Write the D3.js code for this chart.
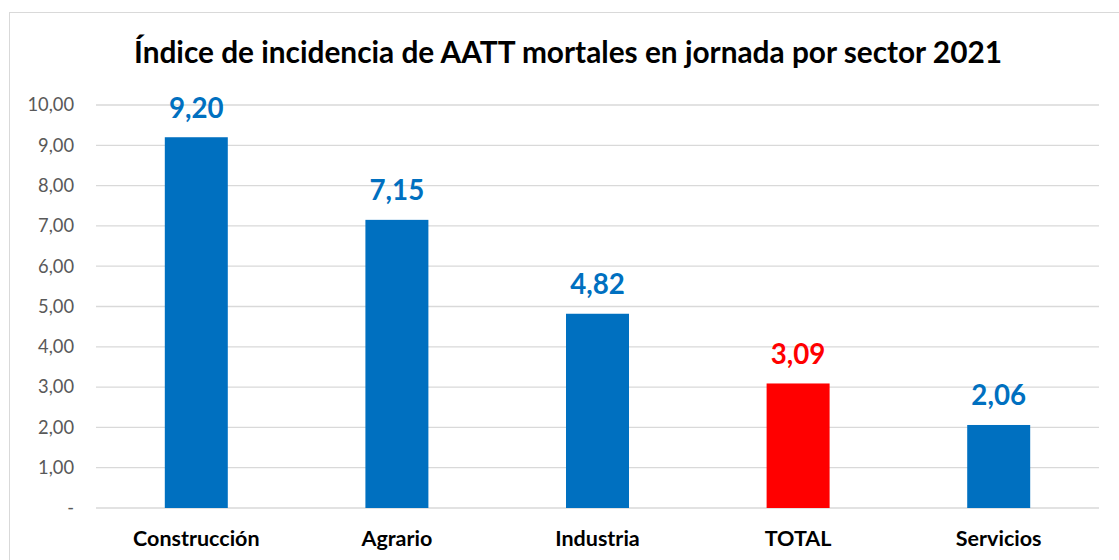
<!DOCTYPE html>
<html>
<head>
<meta charset="utf-8">
<script src="https://cdn.jsdelivr.net/npm/d3@7"></script>
<style>
  body { margin: 0; background: #fff; }
  svg { display: block; font-family: Lato, "Open Sans", sans-serif; }
</style>
</head>
<body>
<div id="chart"></div>
<script>
const sectors = ["Construcción", "Agrario", "Industria", "TOTAL", "Servicios"];
const indexValues = [9.20, 7.15, 4.82, 3.09, 2.06];
const yTicks = [0, 1, 2, 3, 4, 5, 6, 7, 8, 9, 10];
const highlight = "TOTAL";

const pageWidth = 1119, pageHeight = 560;
const plotLeft = 96, plotRight = 1099, plotTop = 105, plotBottom = 508;
const blue = "#0070C0", red = "#FF0000";

const svg = d3.select("#chart").append("svg")
    .attr("width", pageWidth)
    .attr("height", pageHeight);

// outer chart frame
svg.append("rect")
    .attr("x", 9.5).attr("y", 12.5)
    .attr("width", 1130).attr("height", 600)
    .attr("fill", "none")
    .attr("stroke", "#d9d9d9");

svg.append("text")
    .attr("x", 568).attr("y", 63)
    .attr("text-anchor", "middle")
    .attr("font-size", 29.8)
    .attr("font-weight", "bold")
    .attr("fill", "#000")
    .text("Índice de incidencia de AATT mortales en jornada por sector 2021");

const x = d3.scaleBand()
    .domain(sectors)
    .range([plotLeft, plotRight])
    .paddingInner(0.686)
    .paddingOuter(0.343);

const y = d3.scaleLinear()
    .domain([0, 10])
    .range([plotBottom, plotTop]);

const fmt = v => v === 0 ? "-" : d3.format(".2f")(v).replace(".", ",");

// gridlines
svg.append("g").selectAll("line")
    .data(yTicks)
    .enter().append("line")
    .attr("x1", plotLeft).attr("x2", plotRight)
    .attr("y1", d => y(d)).attr("y2", d => y(d))
    .attr("stroke", "#d9d9d9")
    .attr("stroke-width", 1.3);

const yAxis = svg.append("g")
    .attr("transform", "translate(" + 80 + ",0)")
    .call(d3.axisLeft(y).tickValues(yTicks).tickFormat(fmt).tickSize(0).tickPadding(6));
yAxis.select(".domain").remove();
yAxis.selectAll("text")
    .attr("font-size", 18.3)
    .attr("font-family", "Lato, sans-serif")
    .attr("fill", "#595959");

const data = sectors.map((s, i) => ({ sector: s, value: indexValues[i] }));

svg.selectAll(".bar")
    .data(data)
    .enter().append("rect")
    .attr("class", "bar")
    .attr("x", d => x(d.sector))
    .attr("width", x.bandwidth())
    .attr("y", d => y(d.value))
    .attr("height", d => y(0) - y(d.value))
    .attr("fill", d => d.sector === highlight ? red : blue);

svg.selectAll(".val")
    .data(data)
    .enter().append("text")
    .attr("class", "val")
    .attr("x", d => x(d.sector) + x.bandwidth() / 2)
    .attr("y", d => y(d.value) - 19.5)
    .attr("text-anchor", "middle")
    .attr("font-size", 27.7)
    .attr("font-weight", "bold")
    .attr("fill", d => d.sector === highlight ? red : blue)
    .text(d => fmt(d.value));

const xAxis = svg.append("g")
    .attr("transform", "translate(0," + plotBottom + ")")
    .call(d3.axisBottom(x).tickSize(0).tickPadding(0));
xAxis.select(".domain").remove();
xAxis.selectAll("text")
    .attr("dy", 38)
    .attr("y", 0)
    .attr("font-size", 21.5)
    .attr("font-weight", "bold")
    .attr("font-family", "Lato, sans-serif")
    .attr("fill", "#000");
</script>
</body>
</html>
